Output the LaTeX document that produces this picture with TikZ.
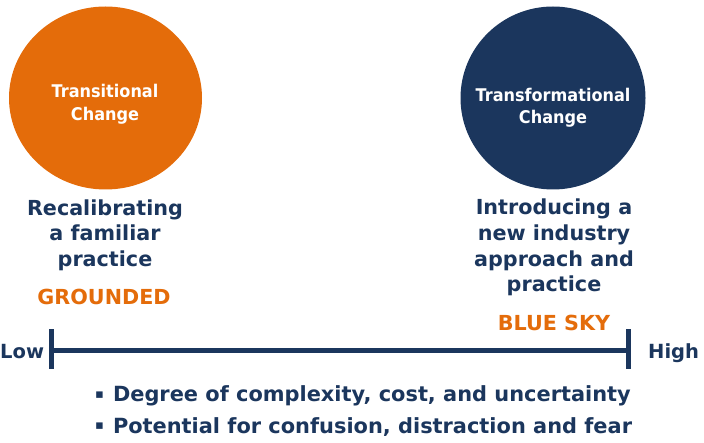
\documentclass[tikz,border=0pt]{standalone}
\usepackage{fontspec}
\setmainfont{DejaVu Sans}
\newfontfamily\cirfont[FakeStretch=0.92]{DejaVu Sans}
\definecolor{navy}{HTML}{1B365D}
\definecolor{orng}{HTML}{E46C0A}
\newcommand{\sqbul}{\raisebox{3.5pt}{\fontsize{13}{13}\selectfont ▪}\hspace{9pt}}
\begin{document}
\begin{tikzpicture}[x=1pt,y=-1pt,
  circtext/.style={text=white,font=\cirfont\fontsize{17.5}{22.5}\selectfont\bfseries,align=center,inner sep=0pt,anchor=base},
  desc/.style={text=navy,font=\fontsize{20.7}{25.7}\selectfont\bfseries,align=center,inner sep=0pt,anchor=base},
  tag/.style={text=orng,font=\fontsize{20.7}{26}\selectfont\bfseries,inner sep=0pt,anchor=base},
  endlabel/.style={text=navy,font=\fontsize{19.5}{24}\selectfont\bfseries,inner sep=0pt,anchor=base west},
  bullet/.style={text=navy,font=\fontsize{20.9}{30}\selectfont\bfseries,inner sep=0pt,anchor=base west},
  axis/.style={draw=navy,line width=5pt}]
\useasboundingbox (0,0) rectangle (704,443);
% circles
\fill[orng] (105.5,98) ellipse [x radius=96.5, y radius=91.5];
\fill[navy] (553,98) ellipse [x radius=92.5, y radius=91.5];
\node[circtext] (t1) at (105,120.5) {Transitional\\Change};
\node[circtext] (t2) at (553,124) {Transformational\\Change};
% descriptions
\node[desc] (d1) at (105,266.5) {Recalibrating\\a familiar\\practice};
\node[desc] (d2) at (554,292) {Introducing a\\new industry\\approach and\\practice};
\node[tag] (g1) at (104,305) {GROUNDED};
\node[tag] (g2) at (554,331) {BLUE SKY};
% axis
\coordinate (a1) at (51.5,351);
\coordinate (a2) at (628,351);
\draw[axis] (a1) -- (a2);
\draw[axis] ([yshift=-18]a1) -- ([yshift=22]a1);
\draw[axis] ([yshift=-18]a2) -- ([yshift=22]a2);
\node[endlabel] (low) at (0,359) {Low};
\node[endlabel] (high) at (648,359) {High};
% bullets
\node[bullet] (b1) at (95,401.7) {\sqbul Degree of complexity, cost, and uncertainty};
\node[bullet] (b2) at (95,433.3) {\sqbul Potential for confusion, distraction and fear};
\end{tikzpicture}
\end{document}
